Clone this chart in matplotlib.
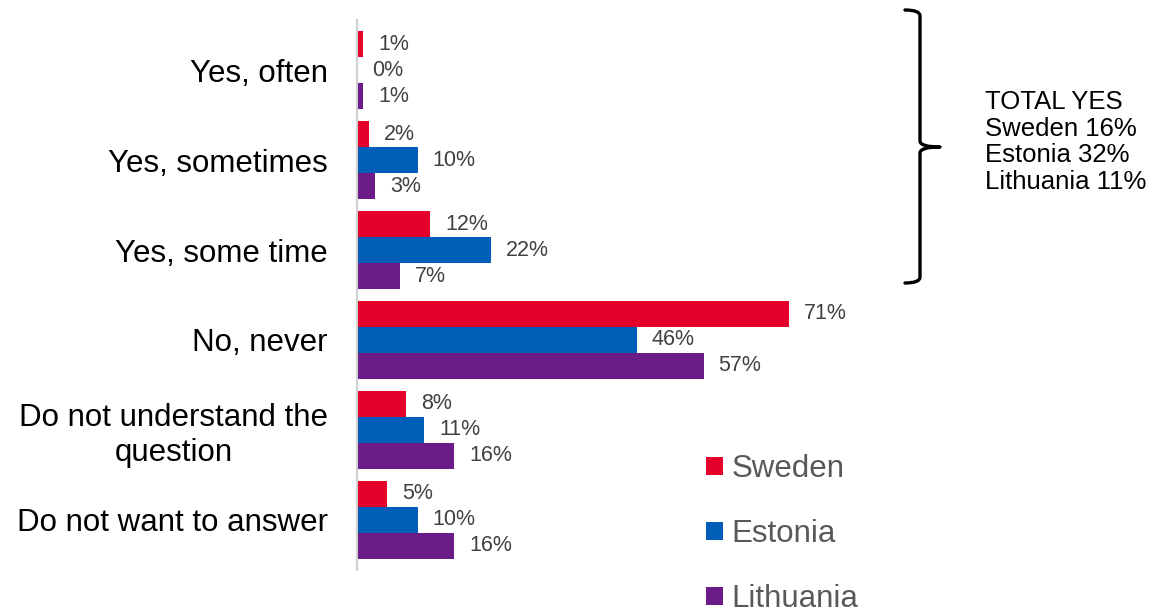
import matplotlib.pyplot as plt
from matplotlib.path import Path
from matplotlib.patches import PathPatch
import numpy as np

plt.rcParams['font.family'] = ['Liberation Sans', 'DejaVu Sans']

categories = ['Yes, often', 'Yes, sometimes', 'Yes, some time', 'No, never',
              'Do not understand the\nquestion', 'Do not want to answer']
series_names = ['Sweden', 'Estonia', 'Lithuania']
sweden = [1, 2, 12, 71, 8, 5]
estonia = [0, 10, 22, 46, 11, 10]
lithuania = [1, 3, 7, 57, 16, 16]
colors = ['#E4002B', '#005EB8', '#6A1B87']
total_yes_lines = ['TOTAL YES', 'Sweden 16%', 'Estonia 32%', 'Lithuania 11%']

W, H = 1155, 612
fig = plt.figure(figsize=(W / 100, H / 100), dpi=100)
# axes in pixel terms: left 357, top 20, bottom 570, 6.08 px per percent
ax = fig.add_axes([357 / W, 1 - 570 / H, 608 / W, 550 / H])

bh = 0.289
y = np.arange(len(categories))
offsets = [-bh, 0, bh]
for vals, off, col, name in zip([sweden, estonia, lithuania], offsets, colors, series_names):
    bars = ax.barh(y + off, vals, height=bh, color=col, label=name)
    for b, v in zip(bars, vals):
        ax.text(v + 15 / 6.08, b.get_y() + b.get_height() / 2, f'{v}%',
                va='center', ha='left', fontsize=15.5, color='#404040')

ax.set_xlim(0, 100)
ax.set_ylim(5.556, -0.556)
ax.set_yticks(y)
ax.set_yticklabels(categories, fontsize=22.5, color='black', ha='right',
                   multialignment='center')
ax.tick_params(axis='y', length=0, pad=21)
ax.set_xticks([])
for s in ['top', 'right', 'bottom']:
    ax.spines[s].set_visible(False)
ax.spines['left'].set_color('#D0D0D0')
ax.spines['left'].set_linewidth(1.5)

# legend
leg = fig.legend(loc='upper left', bbox_to_anchor=(678 / W, 1 - 426 / H),
                 frameon=False, fontsize=22.5, handlelength=0.55, handleheight=0.55,
                 handletextpad=0.26, labelspacing=1.12, labelcolor='#595959')

# curly-ish bracket
x0, xm, xt = 905 / W, 920 / W, 940 / W
ytop, ybot, ymid = 1 - 10 / H, 1 - 283 / H, 1 - 147 / H
dx, dy = 6 / W, 6 / H
verts = [(x0, ytop), (xm, ytop), (xm, ytop - dy),
         (xm, ymid + dy), (xm, ymid), (xt, ymid),
         (xm, ymid), (xm, ymid - dy),
         (xm, ybot + dy), (xm, ybot), (x0, ybot)]
codes = [Path.MOVETO, Path.CURVE3, Path.CURVE3,
         Path.LINETO, Path.CURVE3, Path.CURVE3,
         Path.CURVE3, Path.CURVE3,
         Path.LINETO, Path.CURVE3, Path.CURVE3]
fig.add_artist(PathPatch(Path(verts, codes), transform=fig.transFigure,
                         fill=False, lw=2.4, color='black', joinstyle='round',
                         capstyle='round'))

fig.text(985 / W, 1 - 142 / H, '\n'.join(total_yes_lines), fontsize=18.5,
         va='center', ha='left', linespacing=1.15, color='black')

fig.savefig('out.png', dpi=100)
